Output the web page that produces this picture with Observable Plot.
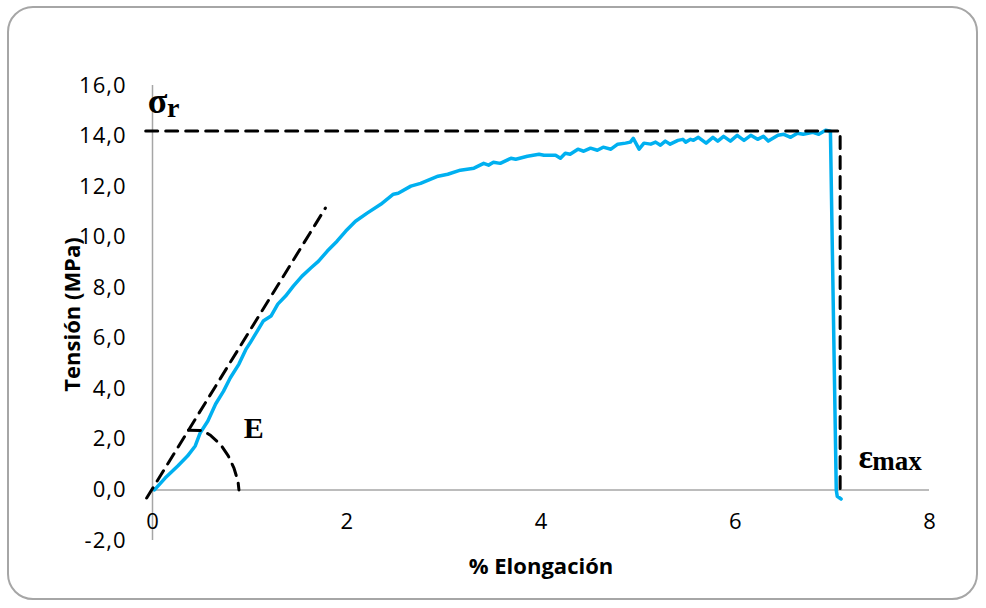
<!DOCTYPE html>
<html>
<head>
<meta charset="utf-8">
<script src="https://cdn.jsdelivr.net/npm/d3@7"></script>
<script src="https://cdn.jsdelivr.net/npm/@observablehq/plot@0.6"></script>
<style>
  body { margin: 0; background: #fff; }
  #wrap { position: relative; width: 986px; height: 608px; overflow: hidden; }
  #border { position: absolute; left: 7px; top: 6px; width: 967px; height: 590px;
            border: 2.5px solid #a6a6a6; border-radius: 26px; pointer-events: none; }
  #wrap svg { position: absolute; left: 0; top: 0; }
  g[aria-label="y-axis tick label"] text { letter-spacing: 1px; }
</style>
</head>
<body>
<div id="wrap"><div id="border"></div></div>
<script>
// Tensile test: % elongation vs. stress (MPa)
const strain = [0.02, 0.13, 0.26, 0.36, 0.44, 0.49, 0.57, 0.65, 0.73, 0.80, 0.89, 0.96, 1.01, 1.08, 1.14,
  1.22, 1.29, 1.37, 1.45, 1.54, 1.63, 1.71, 1.80, 1.90, 1.99, 2.09, 2.21, 2.35, 2.48, 2.53, 2.66, 2.76,
  2.94, 3.04, 3.17, 3.31, 3.41, 3.46, 3.51, 3.58, 3.69, 3.74, 3.86, 3.98, 4.03, 4.15, 4.20, 4.25, 4.30,
  4.38, 4.44, 4.51, 4.58, 4.64, 4.72, 4.79, 4.87, 4.92, 4.95, 5.01, 5.06, 5.13, 5.18, 5.23, 5.28, 5.33,
  5.41, 5.46, 5.49, 5.54, 5.57, 5.62, 5.70, 5.77, 5.82, 5.88, 5.95, 6.02, 6.09, 6.16, 6.23, 6.29, 6.34,
  6.44, 6.50, 6.57, 6.64, 6.70, 6.80, 6.86, 6.93, 6.98, 7.04, 7.05, 7.09];
const stress = [0.00, 0.47, 0.95, 1.34, 1.74, 2.25, 2.73, 3.40, 3.90, 4.43, 4.98, 5.55, 5.85, 6.29, 6.68,
  6.88, 7.35, 7.67, 8.06, 8.46, 8.78, 9.05, 9.45, 9.84, 10.24, 10.63, 10.95, 11.30, 11.70, 11.74, 12.02, 12.13,
  12.41, 12.49, 12.65, 12.73, 12.92, 12.85, 12.96, 12.92, 13.12, 13.08, 13.20, 13.28, 13.24, 13.24, 13.12, 13.32, 13.28,
  13.48, 13.40, 13.52, 13.44, 13.56, 13.48, 13.68, 13.72, 13.76, 13.91, 13.48, 13.72, 13.68, 13.76, 13.64, 13.80, 13.68,
  13.83, 13.87, 13.76, 13.87, 13.83, 13.95, 13.72, 13.95, 13.80, 13.99, 13.80, 14.03, 13.83, 14.03, 13.87, 13.99, 13.80,
  14.03, 14.07, 13.95, 14.11, 14.07, 14.15, 14.07, 14.23, 14.19, 0.00, -0.25, -0.36];

// Guide lines: tangent (modulus E), the angle arc, and σr / εmax markers
const tangentX = [-0.06, 1.78];
const tangentY = [-0.32, 11.15];
const arcX = [0.37, 0.52, 0.60, 0.70, 0.78, 0.84, 0.88, 0.89];
const arcY = [2.36, 2.35, 2.15, 1.80, 1.35, 0.85, 0.35, 0.00];
const sigmaR = 14.2;
const epsMax = 7.08;
const limitX = [-0.07, epsMax, epsMax];
const limitY = [sigmaR, sigmaR, -0.05];

const xTicks = [0, 2, 4, 6, 8];
const yTicks = [-2, 0, 2, 4, 6, 8, 10, 12, 14, 16];
const xTitle = "% Elongación";
const yTitle = "Tensión (MPa)";

const curve = strain.map((x, i) => ({x, y: stress[i]}));
const tangent = tangentX.map((x, i) => ({x, y: tangentY[i]}));
const arc = arcX.map((x, i) => ({x, y: arcY[i]}));
const limits = limitX.map((x, i) => ({x, y: limitY[i]}));

const comma = d => d.toFixed(1).replace(".", ",");
const serif = "'Liberation Serif', 'Times New Roman', serif";
const dash = {stroke: "#000", strokeWidth: 3, strokeDasharray: "12,8"};
const note = {textAnchor: "start", lineAnchor: "bottom", fontFamily: serif, fontWeight: "bold"};

const chart = Plot.plot({
  width: 986,
  height: 608,
  marginLeft: 152,
  marginRight: 57,
  marginTop: 85,
  marginBottom: 68,
  style: {fontFamily: "'Open Sans', sans-serif", color: "#000", background: "transparent", overflow: "visible"},
  x: {domain: [0, 8]},
  y: {domain: [-2, 16]},
  marks: [
    Plot.ruleY([0], {stroke: "#a6a6a6", strokeWidth: 1.5}),
    Plot.ruleX([0], {y1: -2, y2: 16, stroke: "#a6a6a6", strokeWidth: 1.5}),
    Plot.axisY(yTicks, {tickSize: 0, tickPadding: 26, tickFormat: comma, label: null, fontSize: 22}),
    Plot.axisX(xTicks, {tickSize: 0, tickPadding: 0, dy: -27, tickFormat: d => String(d), label: null, fontSize: 22}),
    Plot.text([xTitle], {x: 4, y: -3.03, fontSize: 22, fontWeight: "bold", lineAnchor: "middle"}),
    Plot.text([yTitle], {x: -0.824, y: 6.94, rotate: -90, fontSize: 22, fontWeight: "bold", lineAnchor: "middle"}),
    Plot.line(curve, {x: "x", y: "y", stroke: "#00b0f0", strokeWidth: 3.5}),
    Plot.line(tangent, {x: "x", y: "y", ...dash}),
    Plot.line(arc, {x: "x", y: "y", ...dash}),
    Plot.line(limits, {x: "x", y: "y", ...dash, strokeLinejoin: "miter"}),
    Plot.text(["σ"], {x: -0.05, y: 14.93, ...note, fontSize: 36}),
    Plot.text(["r"], {x: 0.15, y: 14.77, ...note, fontSize: 28}),
    Plot.text(["E"], {x: 0.94, y: 2.07, ...note, fontSize: 30}),
    Plot.text(["ε"], {x: 7.27, y: 0.85, ...note, fontSize: 34}),
    Plot.text(["max"], {x: 7.41, y: 0.77, ...note, fontSize: 27})
  ]
});
document.getElementById("wrap").prepend(chart);
</script>
</body>
</html>
